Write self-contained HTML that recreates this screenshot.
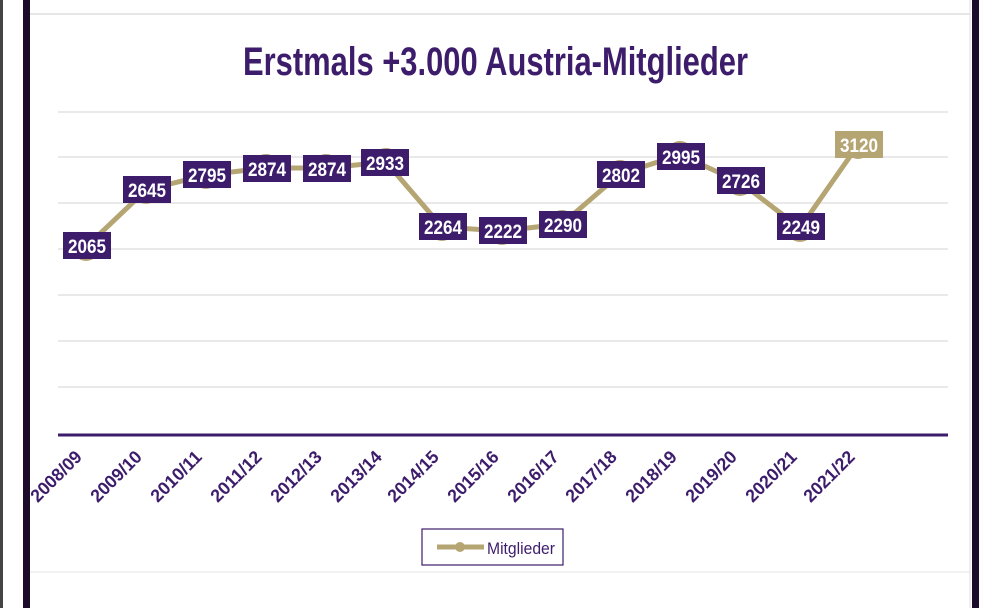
<!DOCTYPE html>
<html><head><meta charset="utf-8"><style>
body{margin:0;background:#fff;}
svg text{font-family:"Liberation Sans",sans-serif;font-weight:bold;}
</style></head><body>
<svg width="1000" height="608" viewBox="0 0 1000 608" xmlns="http://www.w3.org/2000/svg">
<rect width="1000" height="608" fill="#fff"/>
<rect x="0" y="0" width="3" height="608" fill="#444"/>
<rect x="23" y="0" width="7" height="608" fill="#1a0c2a"/>
<rect x="972" y="0" width="7" height="608" fill="#1a0c2a"/>
<line x1="30" y1="14" x2="970" y2="14" stroke="#ddd" stroke-width="1.5"/>
<line x1="30" y1="572" x2="970" y2="572" stroke="#eee" stroke-width="1.5"/>
<line x1="970" y1="0" x2="970" y2="608" stroke="#ddd" stroke-width="1"/>
<text x="243" y="75" font-size="40" fill="#3d1d6b" textLength="505" lengthAdjust="spacingAndGlyphs">Erstmals +3.000 Austria-Mitglieder</text>
<g stroke="#dcdcdc" stroke-width="1.2">
<line x1="58" y1="112" x2="948" y2="112"/><line x1="58" y1="157" x2="948" y2="157"/>
<line x1="58" y1="203" x2="948" y2="203"/><line x1="58" y1="249" x2="948" y2="249"/>
<line x1="58" y1="295" x2="948" y2="295"/><line x1="58" y1="341" x2="948" y2="341"/>
<line x1="58" y1="387" x2="948" y2="387"/>
</g>
<line x1="58" y1="435" x2="948" y2="435" stroke="#3d1d6b" stroke-width="3"/>
<polyline fill="none" stroke="#b5a572" stroke-width="5" points="86,247 146,190 206,175 266,168 326,168 386,162 442,227 502,231 562,224 620,174 680,155 740,182 800,228 858,145"/>
<g fill="#b5a572">
<circle cx="86" cy="247" r="14"/><circle cx="146" cy="190" r="14"/><circle cx="206" cy="175" r="14"/><circle cx="266" cy="168" r="14"/><circle cx="326" cy="168" r="14"/><circle cx="386" cy="162" r="14"/><circle cx="442" cy="227" r="14"/><circle cx="502" cy="231" r="14"/><circle cx="562" cy="224" r="14"/><circle cx="620" cy="174" r="14"/><circle cx="680" cy="155" r="14"/><circle cx="740" cy="182" r="14"/><circle cx="800" cy="228" r="14"/><circle cx="858" cy="145" r="14"/>
</g>
<g font-size="19" text-anchor="middle">
<g fill="#3d1d6b">
<rect x="63" y="232" width="48" height="27"/><rect x="123" y="176" width="48" height="27"/><rect x="183" y="161" width="48" height="27"/><rect x="243" y="155" width="48" height="27"/><rect x="303" y="155" width="48" height="27"/><rect x="361" y="149" width="48" height="27"/><rect x="419" y="213" width="48" height="27"/><rect x="479" y="217" width="48" height="27"/><rect x="539" y="211" width="48" height="27"/><rect x="597" y="161" width="48" height="27"/><rect x="657" y="143" width="48" height="27"/><rect x="717" y="167" width="48" height="27"/><rect x="777" y="213" width="48" height="27"/>
</g>
<rect x="835" y="131" width="48" height="27" fill="#b5a572"/>
<g fill="#fff">
<text x="87" y="253" textLength="38" lengthAdjust="spacingAndGlyphs">2065</text><text x="147" y="197" textLength="38" lengthAdjust="spacingAndGlyphs">2645</text><text x="207" y="182" textLength="38" lengthAdjust="spacingAndGlyphs">2795</text><text x="267" y="176" textLength="38" lengthAdjust="spacingAndGlyphs">2874</text><text x="327" y="176" textLength="38" lengthAdjust="spacingAndGlyphs">2874</text><text x="385" y="170" textLength="38" lengthAdjust="spacingAndGlyphs">2933</text><text x="443" y="234" textLength="38" lengthAdjust="spacingAndGlyphs">2264</text><text x="503" y="238" textLength="38" lengthAdjust="spacingAndGlyphs">2222</text><text x="563" y="232" textLength="38" lengthAdjust="spacingAndGlyphs">2290</text><text x="621" y="182" textLength="38" lengthAdjust="spacingAndGlyphs">2802</text><text x="681" y="164" textLength="38" lengthAdjust="spacingAndGlyphs">2995</text><text x="741" y="188" textLength="38" lengthAdjust="spacingAndGlyphs">2726</text><text x="801" y="234" textLength="38" lengthAdjust="spacingAndGlyphs">2249</text><text x="859" y="152" textLength="38" lengthAdjust="spacingAndGlyphs">3120</text>
</g></g>
<g font-size="18" fill="#3d1d6b">
<text transform="translate(83,458) rotate(-45)" x="-64" textLength="64" lengthAdjust="spacingAndGlyphs">2008/09</text>
<text transform="translate(143,458) rotate(-45)" x="-64" textLength="64" lengthAdjust="spacingAndGlyphs">2009/10</text>
<text transform="translate(203,458) rotate(-45)" x="-64" textLength="64" lengthAdjust="spacingAndGlyphs">2010/11</text>
<text transform="translate(263,458) rotate(-45)" x="-64" textLength="64" lengthAdjust="spacingAndGlyphs">2011/12</text>
<text transform="translate(323,458) rotate(-45)" x="-64" textLength="64" lengthAdjust="spacingAndGlyphs">2012/13</text>
<text transform="translate(383,458) rotate(-45)" x="-64" textLength="64" lengthAdjust="spacingAndGlyphs">2013/14</text>
<text transform="translate(440,458) rotate(-45)" x="-64" textLength="64" lengthAdjust="spacingAndGlyphs">2014/15</text>
<text transform="translate(500,458) rotate(-45)" x="-64" textLength="64" lengthAdjust="spacingAndGlyphs">2015/16</text>
<text transform="translate(560,458) rotate(-45)" x="-64" textLength="64" lengthAdjust="spacingAndGlyphs">2016/17</text>
<text transform="translate(618,458) rotate(-45)" x="-64" textLength="64" lengthAdjust="spacingAndGlyphs">2017/18</text>
<text transform="translate(678,458) rotate(-45)" x="-64" textLength="64" lengthAdjust="spacingAndGlyphs">2018/19</text>
<text transform="translate(738,458) rotate(-45)" x="-64" textLength="64" lengthAdjust="spacingAndGlyphs">2019/20</text>
<text transform="translate(798,458) rotate(-45)" x="-64" textLength="64" lengthAdjust="spacingAndGlyphs">2020/21</text>
<text transform="translate(856,458) rotate(-45)" x="-64" textLength="64" lengthAdjust="spacingAndGlyphs">2021/22</text>
</g>
<rect x="422" y="529" width="141" height="36" fill="#fff" stroke="#3d1d6b" stroke-width="1.2"/>
<line x1="437" y1="547" x2="484" y2="547" stroke="#b5a572" stroke-width="5"/>
<circle cx="460" cy="547" r="5" fill="#b5a572"/>
<text x="487" y="554" font-size="17" fill="#3d1d6b" style="font-weight:normal" textLength="68" lengthAdjust="spacingAndGlyphs">Mitglieder</text>
</svg>
</body></html>
